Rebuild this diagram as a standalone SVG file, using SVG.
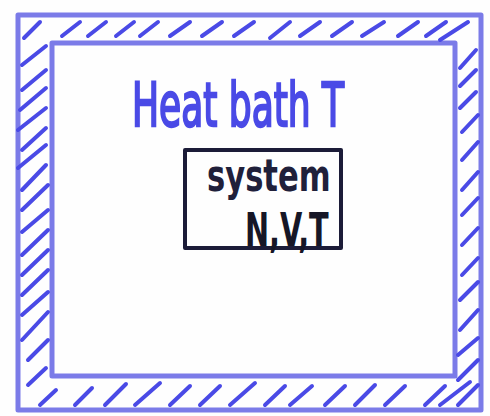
<svg xmlns="http://www.w3.org/2000/svg" width="490" height="416" viewBox="0 0 490 416">
<style>
.b{fill:none;stroke:#5a5ae2;stroke-width:5;stroke-linecap:round;stroke-linejoin:round;opacity:0.8}
.h{fill:none;stroke:#4a4ae6;stroke-width:4;stroke-linecap:round}
.k{fill:none;stroke:#1c1c38;stroke-width:4;stroke-linejoin:round}
.t{font-family:"DejaVu Sans Condensed","DejaVu Sans",sans-serif}
</style>
<rect width="490" height="416" fill="#fefefe"/>
<g id="heat-bath">
<rect class="b" x="18" y="15" width="463" height="395"/>
<rect class="b" x="52" y="43" width="403" height="333"/>
<g id="hatch">
<path class="h" d="M24 38L40 22 M62 36L80 22 M88 36L106 22 M116 36L134 22 M140 36L158 22 M170 36L190 22 M202 36L222 22 M234 36L254 22 M270 38L290 22 M300 36L320 22 M332 36L352 22 M362 36L384 22 M398 36L418 22 M426 36L446 22 M440 40L468 22"/>
<path class="h" d="M22 65L46 46 M22 90L46 70 M20 110L46 88 M18 130L46 108 M22 150L46 128 M18 168L46 145 M22 190L46 165 M22 210L48 185 M22 232L48 210 M22 255L48 230 M22 275L48 250 M22 295L48 270 M22 315L48 292 M22 340L48 312 M28 360L48 340 M28 385L46 368 M40 405L56 390"/>
<path class="h" d="M460 68L476 50 M460 86L476 70 M460 108L476 92 M462 132L478 115 M462 160L478 142 M462 190L478 172 M462 215L478 198 M462 245L478 228 M462 275L478 258 M460 300L478 282 M460 330L478 310 M458 355L478 338 M458 380L478 360 M458 405L478 385"/>
<path class="h" d="M75 405L92 388 M105 405L126 384 M135 405L160 383 M170 405L190 386 M200 405L220 386 M230 405L255 383 M265 405L285 386 M290 405L312 386 M325 405L345 386 M355 405L375 385 M385 405L405 386 M425 405L445 386 M440 405L470 382"/>
</g>
<text class="t" transform="translate(132,126) scale(1,1.5)" font-size="40" fill="#4a4ae6" stroke="#4a4ae6" stroke-width="1.5">Heat bath T</text>
</g>
<g id="system">
<rect class="k" x="185" y="150" width="156" height="98"/>
<text class="t" transform="translate(207,191) scale(1,1.3)" font-size="34" font-weight="bold" fill="#20203a">system</text>
<text class="t" transform="translate(245,246) scale(1,1.45)" font-size="32" font-weight="bold" fill="#161626">N,V,T</text>
</g>
</svg>
